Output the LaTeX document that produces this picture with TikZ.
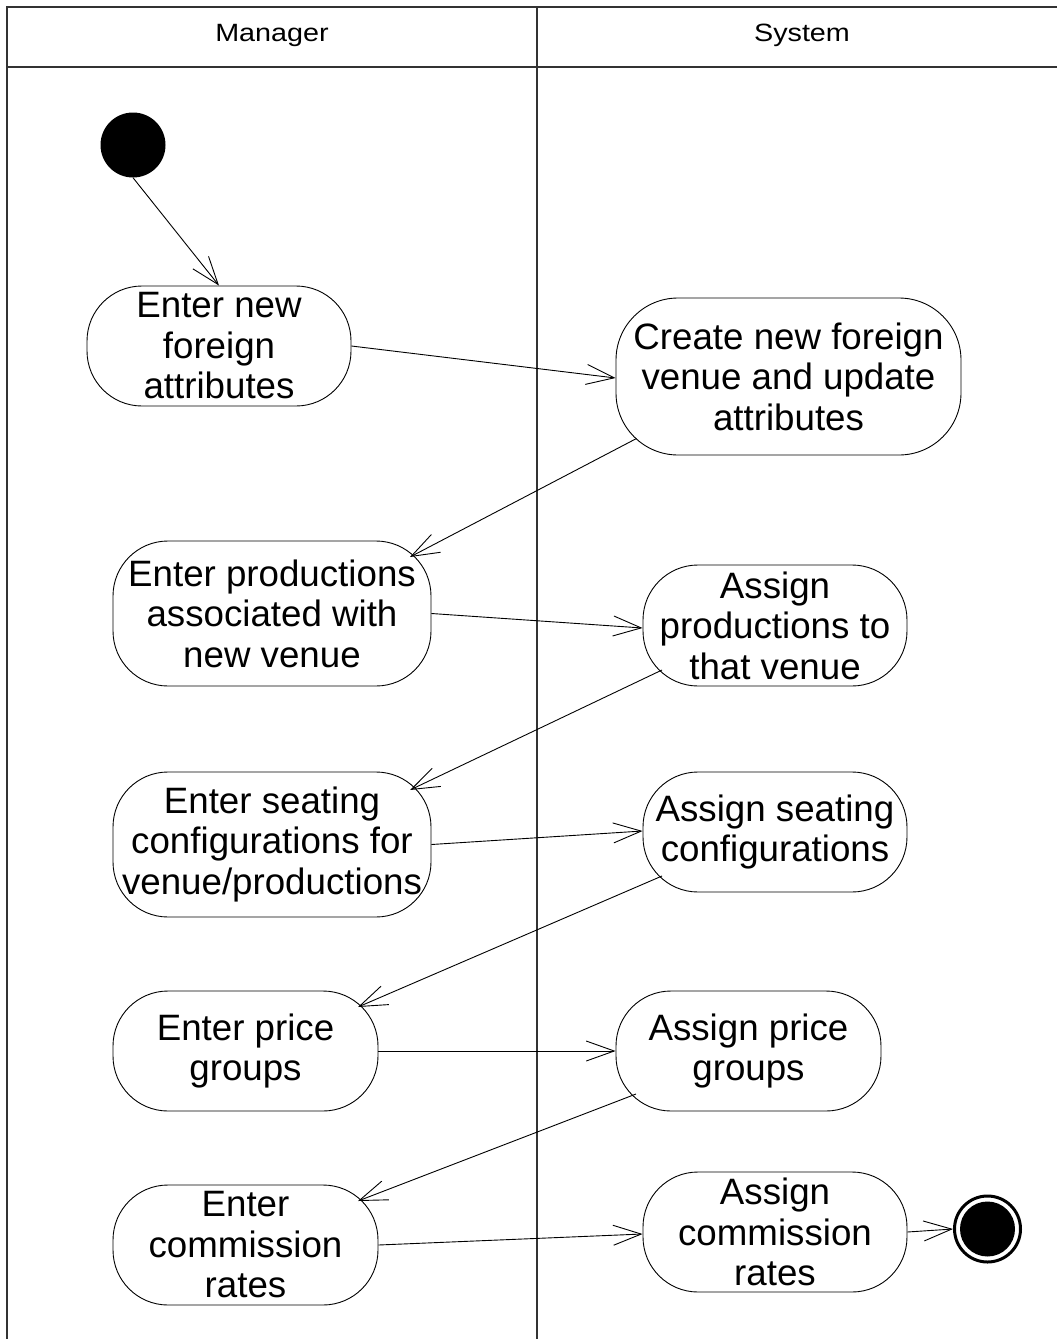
\documentclass[tikz,border=0pt]{standalone}
\usepackage{fontspec}
\setmainfont{Liberation Sans}
\newfontfamily\hdrfont[FakeStretch=1.15]{Liberation Sans}
\usetikzlibrary{arrows.meta,calc}

\begin{document}
\begin{tikzpicture}[x=1pt,y=-1pt,
  lane/.style={line width=1.3pt,draw=black!80},
  lanehead/.style={font=\hdrfont\fontsize{25}{28}\selectfont},
  activity/.style={draw,line width=0.9pt,rounded corners=55pt,inner sep=0pt,
    align=center,font=\fontsize{36.7}{40.5}\selectfont},
  flow/.style={line width=0.9pt,-{Straight Barb[length=28pt,width=20pt,line width=0.9pt]}},
]
\useasboundingbox (0,0) rectangle (1057,1339);

% swimlane frame
\draw[lane] (7,1339) -- (7,7) -- (1057,7);
\draw[lane] (7,67) -- (1057,67);
\draw[lane] (537,7) -- (537,1339);
\node[lanehead] (hmgr) at (272,35) {Manager};
\node[lanehead] (hsys) at (802,35) {System};

% initial and final states
\node[circle,fill=black,minimum size=65pt,inner sep=0pt] (start) at (133,145) {};
\node[circle,draw,line width=3pt,fill=white,minimum size=66pt,inner sep=0pt,
  path picture={\fill[black] (path picture bounding box.center) circle (27.5pt);}] (stop) at (987.5,1229) {};

% activities, Manager lane
\node[activity,minimum width=264pt,minimum height=120pt] (a1) at (219,346) {Enter new\\foreign\\attributes};
\node[activity,minimum width=318pt,minimum height=145pt] (a2) at (272,613.5) {Enter productions\\associated with\\new venue};
\node[activity,minimum width=318pt,minimum height=145pt] (a3) at (272,844.5) {Enter seating\\configurations for\\venue/productions};
\node[activity,minimum width=265pt,minimum height=120pt] (a4) at (245.5,1051) {Enter price\\groups};
\node[activity,minimum width=265pt,minimum height=120pt] (a5) at (245.5,1245) {Enter\\commission\\rates};

% activities, System lane
\node[activity,minimum width=345pt,minimum height=157pt,rounded corners=62pt] (s1) at (788.5,376.5) {Create new foreign\\venue and update\\attributes};
\node[activity,minimum width=264pt,minimum height=121pt] (s2) at (775,625.5) {Assign\\productions to\\that venue};
\node[activity,minimum width=264pt,minimum height=120pt] (s3) at (775,832) {Assign seating\\configurations};
\node[activity,minimum width=265pt,minimum height=120pt] (s4) at (748.5,1051) {Assign price\\groups};
\node[activity,minimum width=264pt,minimum height=120pt] (s5) at (775,1232) {Assign\\commission\\rates};

% control flow
\draw[flow] (start.south) -- (a1.north);
\draw[flow] (a1.east) -- ($(s1.west)+(0,1.5)$);
\draw[flow] ($(s1.center)+(-152,62)$) -- ($(a2.center)+(138,-56.5)$);
\draw[flow] (a2.east) -- ($(s2.west)+(0,2.5)$);
\draw[flow] ($(s2.center)+(-113,44.5)$) -- ($(a3.center)+(138,-54.5)$);
\draw[flow] (a3.east) -- ($(s3.west)+(0,-1)$);
\draw[flow] ($(s3.center)+(-113,44)$) -- ($(a4.center)+(112.5,-44)$);
\draw[flow] (a4.east) -- (s4.west);
\draw[flow] ($(s4.center)+(-112.5,43)$) -- ($(a5.center)+(112.5,-44)$);
\draw[flow] (a5.east) -- ($(s5.west)+(0,2)$);
\draw[flow] (s5.east) -- (stop.west);
\end{tikzpicture}
\end{document}
